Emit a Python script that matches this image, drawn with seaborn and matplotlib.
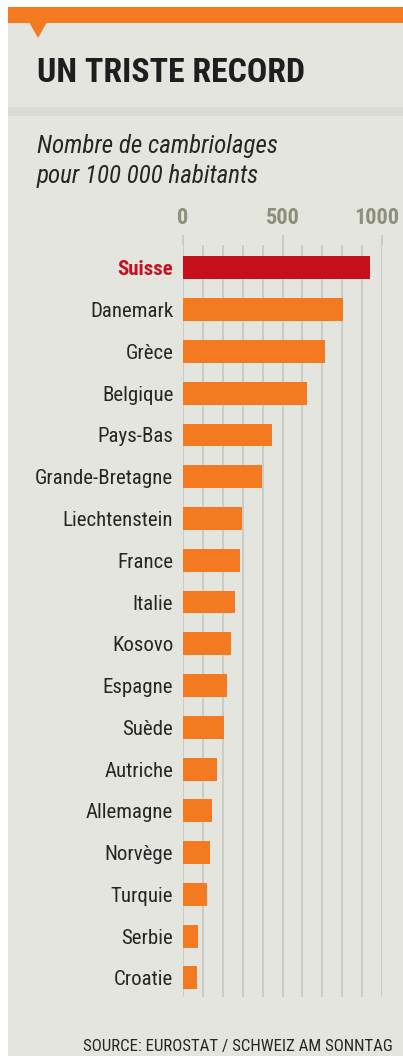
import matplotlib
matplotlib.use("Agg")
import matplotlib.pyplot as plt
import matplotlib.transforms as mtransforms
import seaborn as sns
import pandas as pd
import numpy as np
from matplotlib.patches import Rectangle, Polygon

countries = ["Suisse", "Danemark", "Grèce", "Belgique", "Pays-Bas", "Grande-Bretagne",
             "Liechtenstein", "France", "Italie", "Kosovo", "Espagne", "Suède",
             "Autriche", "Allemagne", "Norvège", "Turquie", "Serbie", "Croatie"]
values = [938, 805, 713, 622, 447, 398, 297, 285, 260, 242, 222, 208,
          170, 148, 135, 123, 73, 70]
tick_values = [0, 500, 1000]
tick_labels = ["0", "500", "1000"]
title = "UN TRISTE RECORD"
subtitle = ["Nombre de cambriolages", "pour 100 000 habitants"]
source = "SOURCE: EUROSTAT / SCHWEIZ AM SONNTAG"

ORANGE = "#F37A20"
RED = "#C6101C"
BG = "#E5E5DF"
GRID = "#C8C8C1"
TEXT = "#262626"
TICK = "#8E8E7C"
FONT = ["Roboto Condensed", "Roboto", "DejaVu Sans"]

W, H = 403, 1056
fig = plt.figure(figsize=(W / 100, H / 100), dpi=100, facecolor="white")

def fx(px):
    return px / W

def fy(py):
    return 1 - py / H

# background panel
fig.patches.append(Rectangle((fx(8), 0), 1 - fx(8), fy(7), transform=fig.transFigure,
                             facecolor=BG, edgecolor="none", zorder=-10))
# separator shading
fig.patches.append(Rectangle((fx(8), fy(116)), 1 - fx(8), fy(107) - fy(116), transform=fig.transFigure,
                             facecolor="#DBDBD4", edgecolor="none", zorder=-9))
# top orange band
fig.patches.append(Rectangle((fx(8), fy(23)), 1 - fx(8), fy(7) - fy(23), transform=fig.transFigure,
                             facecolor=ORANGE, edgecolor="none", zorder=-8))
fig.patches.append(Polygon([(fx(29), fy(22)), (fx(47), fy(22)), (fx(38), fy(38))],
                           closed=True, transform=fig.transFigure,
                           facecolor=ORANGE, edgecolor="none", zorder=-8))

fig.text(fx(37), fy(82), title, family=FONT, weight="bold", fontsize=24.4,
         color="#1E1E1E", va="baseline", ha="left")
fig.text(fx(37), fy(153), subtitle[0], family=FONT, style="italic", fontsize=18,
         color=TEXT, va="baseline", ha="left")
fig.text(fx(37), fy(183), subtitle[1], family=FONT, style="italic", fontsize=18,
         color=TEXT, va="baseline", ha="left")
fig.text(fx(393), fy(1051), source, family=FONT, fontsize=12.2,
         color=TEXT, va="baseline", ha="right")

ax_left, ax_right, ax_top, ax_bottom = 183, 382, 245, 997
ax = fig.add_axes([fx(ax_left), fy(ax_bottom), fx(ax_right - ax_left), fy(ax_top) - fy(ax_bottom)])
ax.set_facecolor("none")

df = pd.DataFrame({"country": countries, "value": values})
palette = {c: (RED if c == "Suisse" else ORANGE) for c in countries}
sns.barplot(data=df, y="country", x="value", hue="country", palette=palette,
            order=countries, orient="h", width=0.55, legend=False, ax=ax,
            saturation=1, edgecolor="none")

ax.set_xlim(0, 1000)
ax.set_ylim(17.46, -0.55)
ax.set_xlabel("")
ax.set_ylabel("")
for s in ax.spines.values():
    s.set_visible(False)

ax.xaxis.tick_top()
ax.set_xticks(tick_values)
ax.set_xticklabels(tick_labels)
ax.set_xticks(np.arange(0, 1001, 100), minor=True)
ax.tick_params(axis="x", which="major", length=7.5, width=1.2, color=GRID, pad=4,
               labelsize=16, labelcolor=TICK)
ax.tick_params(axis="x", which="minor", length=0)
for lab in ax.get_xticklabels():
    lab.set_family(FONT)
    lab.set_weight("bold")
    if lab.get_text() == "1000":
        lab.set_transform(lab.get_transform() +
                          mtransforms.ScaledTranslation(-5 / 100, 0, fig.dpi_scale_trans))
ax.grid(axis="x", which="both", color=GRID, linewidth=1.2)
ax.grid(axis="y", visible=False)
ax.set_axisbelow(True)

ax.tick_params(axis="y", length=0, pad=7, labelsize=15, labelcolor=TEXT)
for lab in ax.get_yticklabels():
    lab.set_family(FONT)
    if lab.get_text() == "Suisse":
        lab.set_color(RED)
        lab.set_weight("bold")

fig.savefig("out.png", dpi=100, facecolor="white")
